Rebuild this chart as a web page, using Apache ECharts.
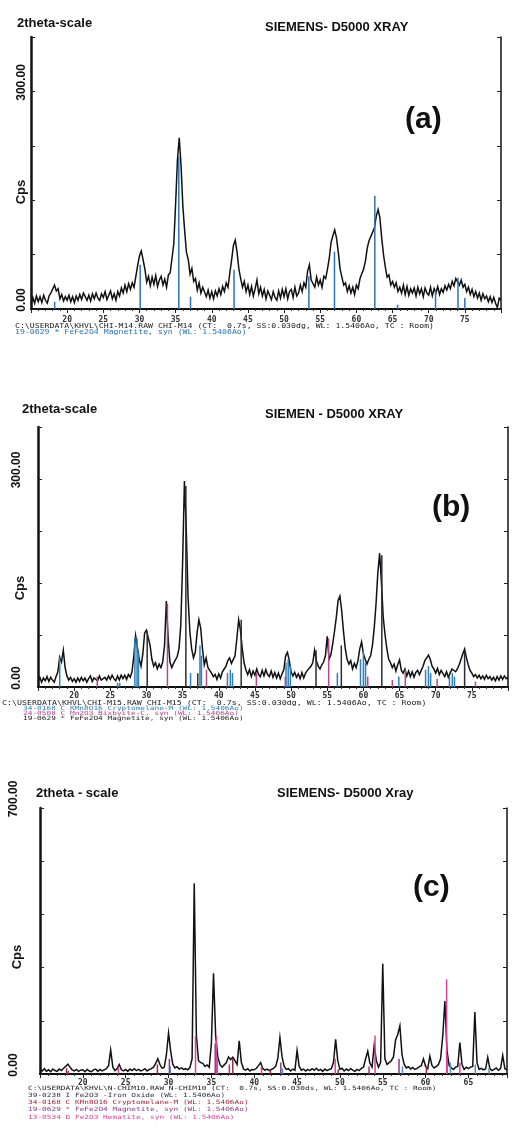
<!DOCTYPE html>
<html><head><meta charset="utf-8">
<script src="https://cdn.jsdelivr.net/npm/echarts@6/dist/echarts.min.js"></script>
<style>html,body{margin:0;padding:0;background:#fff}#c{width:525px;height:1129px}</style>
</head><body><div id="c"></div><script>
// ---------------- DATA ----------------
// 2theta sampling grid of the scans (degrees)
const TT_START = 15, TT_STEP = 0.25;
// (a) CHI-M14 scan, Cps, one value every 0.25 deg from 15.00 to 80.00
const yA = [
6,16,8,18, 10,17,9,19, 12,8,18,22, 24,33,25,28, 14,20,11,17,
12,19,10,17, 9,18,12,20, 13,22,17,12, 19,11,21,14, 22,15,12,21,
16,24,13,19, 25,14,21,12, 24,18,29,22, 33,24,35,27, 36,30,45,60,
73,80,68,55, 37,45,32,44, 34,46,31,40, 45,33,41,30, 47,50,70,90,
145,205,236,198, 142,108,78,68, 48,56,38,42, 26,36,22,30, 28,17,26,15,
24,14,25,18, 28,20,31,24, 36,30,50,68, 88,95,78,55, 42,30,38,24,
33,20,31,18, 28,40,21,30, 18,27,14,25, 26,13,24,16, 12,25,15,27,
17,28,14,24, 27,16,30,18, 22,33,24,36, 30,52,61,40, 42,30,44,33,
40,30,45,42, 55,70,92,101, 109,98,78,55, 44,33,36,24, 32,22,30,20,
33,28,42,40, 55,66,84,94, 100,106,112,128, 137,126,98,75, 58,44,47,33,
38,30,36,24, 30,22,33,20, 31,19,28,22, 29,18,30,21, 28,17,29,22,
19,30,18,28, 22,31,20,28, 23,32,26,34, 28,38,32,42, 44,33,40,30,
34,24,30,20, 27,17,24,15, 22,12,21,14, 18,10,17,9, 16,8,2,15,
12];
// (b) CHI-M15 scan, 15.00 to 80.00
const yB = [
8,14,7,13, 9,15,8,14, 10,7,15,22, 43,36,53,28, 16,10,14,8,
12,7,13,8, 14,9,13,7, 12,16,8,13, 15,9,16,10, 8,14,10,16,
11,17,12,9, 16,10,17,12, 17,11,18,14, 22,45,74,72, 40,30,48,78,
82,80,60,40, 30,35,26,33, 28,36,60,124, 70,36,28,34, 33,44,55,90,
180,297,230,130, 80,55,42,50, 78,97,85,55, 32,42,28,24, 20,15,18,11,
19,13,22,26, 30,38,42,34, 36,45,70,97, 82,55,35,25, 18,25,15,23,
17,26,18,15, 24,16,25,18, 15,23,14,21, 13,20,12,19, 25,45,50,38,
22,16,21,14, 19,12,21,13, 20,24,26,30, 35,53,38,30, 26,32,36,45,
73,40,46,62, 80,100,125,131, 110,80,55,40, 33,38,26,34, 28,38,55,65,
48,40,33,40, 45,60,85,120, 165,193,150,100, 75,55,40,35, 28,33,23,32,
39,24,20,26, 16,23,15,22, 14,21,24,18, 24,30,38,42, 46,40,30,26,
20,27,18,24, 23,15,22,14, 20,26,28,22, 26,32,40,48, 55,42,32,24,
20,15,18,13, 17,12,16,11, 17,12,15,10, 14,9,15,10, 16,11,16,12,
14];
// (c) N-CHIM10 scan, 15.00 to 69.50
const yC = [
12,8,14,7, 11,6,13,9, 7,13,9,15, 20,26,18,11, 8,12,7,10,
11,6,12,8, 6,11,13,7, 12,8,11,14, 22,63,18,9, 14,25,11,8,
12,7,13,9, 14,9,12,8, 10,14,8,12, 14,18,28,40, 25,15,18,50,
108,60,25,16, 19,13,16,12, 14,11,17,40, 502,102,35,30, 28,20,24,18,
80,265,100,45, 25,18,24,30, 45,38,44,35, 25,87,30,13, 10,14,8,12,
11,15,22,30, 14,10,13,9, 12,15,20,40, 96,45,20,12, 14,8,13,10,
62,20,10,13, 8,12,9,14, 10,15,9,12, 7,13,9,12, 14,30,91,35,
12,15,8,13, 9,14,10,7, 12,9,15,18, 40,60,28,18, 75,35,18,30,
290,40,25,30, 35,45,90,104, 127,50,25,16, 19,13,17,12, 15,19,22,40,
20,14,47,22, 16,20,25,40, 100,192,60,22, 16,12,18,20, 83,25,12,18,
14,18,20,163, 30,12,15,11, 13,44,14,9, 12,16,10,14, 49,14,11];

// reference patterns: [2theta, height in Cps]
const magA = [[18.27,10],[30.10,61],[35.44,210],[37.06,17],[43.08,54],[53.43,45],[56.97,79],[62.55,156],[65.7,6],[70.95,26],[74.05,43],[75.0,15]];
const crypB = [[18.0,43],[26.0,6],[26.3,6],[28.4,72],[28.7,70],[28.9,50],[36.1,20],[37.4,60],[37.6,45],[41.2,20],[41.6,25],[41.9,20],[49.3,35],[49.6,40],[49.9,30],[56.4,20],[59.6,40],[60.0,53],[60.3,35],[64.9,15],[68.6,25],[69.0,30],[69.3,20],[71.9,15],[72.3,20],[72.6,15]];
const bixB = [[23.2,15],[32.9,120],[38.3,25],[45.2,20],[49.2,15],[55.2,70],[60.6,15],[64.0,10],[65.8,25],[70.2,12],[75.5,8]];
const magB = [[30.1,80],[35.45,290],[37.1,20],[43.1,97],[53.45,53],[56.95,60],[62.55,190],[74.0,50]];
const ironC = [[30.2,20],[35.7,40],[43.3,15],[57.3,20],[62.9,30],[65.8,25],[67.4,15]];
const crypC = [[18.1,15],[28.7,25],[37.5,40],[41.9,10],[49.8,12],[60.1,20]];
const magC = [[18.3,8],[30.1,40],[35.45,80],[37.1,25],[43.1,30],[53.4,20],[56.9,40],[62.5,50]];
const hemC = [[24.15,20],[33.15,100],[35.6,100],[40.85,20],[49.45,40],[54.1,101],[62.45,249],[64.0,30]];

const xTickStep = 5;
const yLabelA = [0, 300], yLabelB = [0, 300], yLabelC = [0, 700];

// ---------------- CHART ----------------
const chart = echarts.init(document.getElementById('c'), null, {renderer: 'canvas'});
function pts(arr) { return arr.map((v, i) => [TT_START + i * TT_STEP, v]); }

const grids = [
  {left: 31, top: 37, width: 470, height: 272},
  {left: 38, top: 427, width: 470, height: 260},
  {left: 40, top: 808, width: 467, height: 266}
];
const panels = [
  {xmax: 80, ymax: 375, yint: 75, ylab: yLabelA, lm: 3},
  {xmax: 80, ymax: 375, yint: 75, ylab: yLabelB, lm: 15},
  {xmax: 69.5, ymax: 700, yint: 140, ylab: yLabelC, lm: 20}
];
const monoFont = '"DejaVu Sans Mono"';
const xAxes = [], yAxes = [];
panels.forEach((p, g) => {
  xAxes.push({
    type: 'value', gridIndex: g, position: 'bottom', min: 15, max: p.xmax, interval: xTickStep,
    axisLine: {show: true, lineStyle: {color: '#111', width: 2}},
    axisTick: {show: true, inside: false, length: 3, lineStyle: {color: '#222'}},
    minorTick: {show: true, splitNumber: 5, length: 2, lineStyle: {color: '#333'}},
    splitLine: {show: false},
    axisLabel: {margin: g === 0 ? 7 : 5, fontFamily: monoFont, fontSize: 8, fontWeight: 'bold', color: '#333',
      formatter: v => (v <= 15 || v >= p.xmax) ? '' : String(v)}
  });
  xAxes.push({
    type: 'value', gridIndex: g, position: 'top', min: 15, max: p.xmax, interval: xTickStep,
    axisLine: {show: true, lineStyle: {color: '#111', width: 1.5}},
    axisTick: {show: true, inside: true, length: 4, lineStyle: {color: '#222'}},
    splitLine: {show: false}, axisLabel: {show: false}
  });
  yAxes.push({
    type: 'value', gridIndex: g, position: 'left', min: 0, max: p.ymax, interval: p.yint,
    axisLine: {show: true, lineStyle: {color: '#111', width: 2.5}},
    axisTick: {show: true, inside: true, length: 4, lineStyle: {color: '#222'}},
    splitLine: {show: false},
    axisLabel: {rotate: 90, align: 'center', verticalAlign: 'bottom', margin: p.lm, padding: [0, 0, 0, 18],
      fontFamily: 'Liberation Sans', fontWeight: 'bold', fontSize: 12, color: '#111',
      formatter: v => p.ylab.indexOf(v) >= 0 ? v.toFixed(2) : ''}
  });
  yAxes.push({
    type: 'value', gridIndex: g, position: 'right', min: 0, max: p.ymax, interval: p.yint,
    axisLine: {show: true, lineStyle: {color: '#111', width: 1.5}},
    axisTick: {show: true, inside: true, length: 4, lineStyle: {color: '#222'}},
    splitLine: {show: false}, axisLabel: {show: false}
  });
});

function sticks(data, g, color, z) {
  return {
    type: 'custom', coordinateSystem: 'cartesian2d', xAxisIndex: g * 2, yAxisIndex: g * 2, z: z || 3,
    data: data, encode: {x: 0, y: 1}, silent: true,
    renderItem: (params, api) => {
      const p0 = api.coord([api.value(0), 0]);
      const p1 = api.coord([api.value(0), api.value(1)]);
      return {type: 'line', shape: {x1: p0[0], y1: p0[1], x2: p1[0], y2: p1[1]},
        style: {stroke: color, lineWidth: 1.5}};
    }
  };
}
function scan(arr, g) {
  return {type: 'line', xAxisIndex: g * 2, yAxisIndex: g * 2, data: pts(arr), showSymbol: false,
    symbol: 'none', silent: true, z: 2, animation: false, sampling: null,
    lineStyle: {color: '#111', width: 1.5, join: 'miter'}};
}

const T = (text, x, y, font, extra) => Object.assign({type: 'text', x: x, y: y, silent: true,
  style: {text: text, font: font, fill: '#111', textVerticalAlign: 'middle'}}, extra || {});
const titleFont = 'bold 13px "Liberation Sans"';
const bigFont = 'bold 30px "Liberation Sans"';
const cpsFont = 'bold 13px "Liberation Sans"';
const foot = (text, x, y, color, size) => ({type: 'text', x: x, y: y, scaleY: 0.75, silent: true,
  style: {text: text, font: (size || 8) + 'px ' + monoFont, fill: color, textVerticalAlign: 'middle'}});
const cps = (x, y) => ({type: 'text', x: x, y: y, rotation: Math.PI / 2, silent: true,
  style: {text: 'Cps', font: cpsFont, fill: '#111', textAlign: 'center', textVerticalAlign: 'middle'}});

const graphic = [
  T('2theta-scale', 17, 23, titleFont), T('SIEMENS- D5000 XRAY', 265, 27, titleFont),
  T('(a)', 405, 120, bigFont), cps(21, 192),
  foot('C:\\USERDATA\\KHVL\\CHI-M14.RAW CHI-M14 (CT:  0.7s, SS:0.030dg, WL: 1.5406Ao, TC : Room)', 15, 326, '#222', 8.2),
  foot('19-0629 * FeFe2O4 Magnetite, syn (WL: 1.5406Ao)', 15, 332, '#2c72b4', 8.2),

  T('2theta-scale', 22, 409, titleFont), T('SIEMEN - D5000 XRAY', 265, 414, titleFont),
  T('(b)', 432, 508, bigFont), cps(20, 588),
  foot('C:\\USERDATA\\KHVL\\CHI-M15.RAW CHI-M15 (CT:  0.7s, SS:0.030dg, WL: 1.5406Ao, TC : Room)', 2, 703, '#222', 8.3),
  foot('34-0168 C KMn8O16 Cryptomelane-M (WL: 1.5406Ao)', 23, 708, '#2f7fb8', 7.8),
  foot('24-0508 C Mn2O3 Bixbyite-C, syn (WL: 1.5406Ao)', 23, 713, '#b2478f', 7.8),
  foot('19-0629 * FeFe2O4 Magnetite, syn (WL: 1.5406Ao)', 23, 718, '#222', 7.8),

  T('2theta - scale', 36, 793, titleFont), T('SIEMENS- D5000 Xray', 277, 793, titleFont),
  T('(c)', 413, 888, bigFont), cps(17, 957),
  foot('C:\\USERDATA\\KHVL\\N-CHIM10.RAW N-CHIM10 (CT:  0.7s, SS:0.030ds, WL: 1.5406Ao, TC : Room)', 28, 1088, '#222', 7.8),
  foot('39-0238 I Fe2O3 -Iron Oxide (WL: 1.5406Ao)', 28, 1095, '#2a3050', 7.8),
  foot('34-0168 C KMn8O16 Cryptomelane-M (WL: 1.5406Ao)', 28, 1102, '#a0283c', 7.8),
  foot('19-0629 * FeFe2O4 Magnetite, syn (WL: 1.5406Ao)', 28, 1109, '#8a3a8a', 7.8),
  foot('13-0534 D Fe2O3 Hematite, syn (WL: 1.5406Ao)', 28, 1117, '#d8449a', 7.8)
];

chart.setOption({
  backgroundColor: '#ffffff',
  animation: false,
  grid: grids.map(g => Object.assign({containLabel: false, outerBoundsMode: 'none'}, g)),
  xAxis: xAxes,
  yAxis: yAxes,
  series: [
    scan(yA, 0), sticks(magA, 0, '#2c72b4', 3),
    scan(yB, 1), sticks(crypB, 1, '#2f7fb8', 3), sticks(bixB, 1, '#b2478f', 3), sticks(magB, 1, '#2b2b3a', 3),
    scan(yC, 2), sticks(ironC, 2, '#5a8ac0', 3), sticks(crypC, 2, '#a0283c', 3), sticks(magC, 2, '#8a3a8a', 3), sticks(hemC, 2, '#d8449a', 3)
  ],
  graphic: graphic
});
</script></body></html>
